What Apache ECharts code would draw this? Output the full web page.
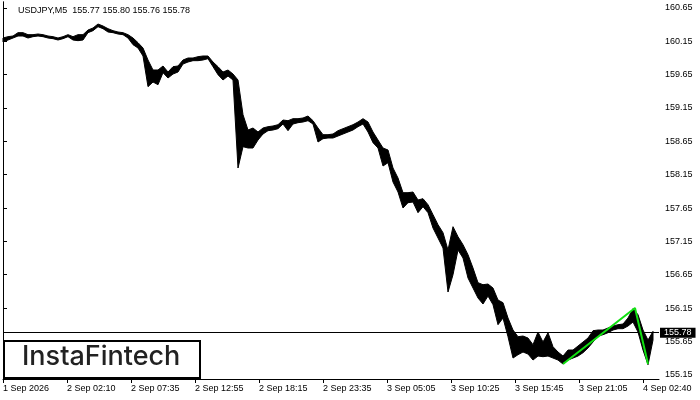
<!DOCTYPE html>
<html>
<head>
<meta charset="utf-8">
<script src="https://cdn.jsdelivr.net/npm/echarts@6/dist/echarts.min.js"></script>
<style>html,body{margin:0;padding:0;background:#fff}#c{width:700px;height:400px}</style>
</head>
<body>
<div id="c"></div>
<script>
// Sampled price range (every 5 M5 bars): high and low of each group
const sampleStep = 5;
const highs = [160.20,160.22,160.23,160.28,160.28,160.25,160.25,160.26,160.25,160.23,
160.22,160.20,160.22,160.25,160.22,160.25,160.25,160.32,160.35,160.41,
160.38,160.34,160.31,160.29,160.28,160.25,160.20,160.13,160.05,159.87,
159.72,159.72,159.78,159.69,159.77,159.78,159.87,159.90,159.90,159.92,
159.93,159.93,159.84,159.77,159.69,159.72,159.66,159.57,159.05,158.82,
158.85,158.79,158.85,158.87,158.88,158.90,158.97,158.96,158.99,158.99,
159.00,159.03,158.96,158.85,158.75,158.75,158.76,158.81,158.84,158.87,
158.90,158.94,158.99,158.94,158.79,158.67,158.55,158.52,158.25,158.10,
157.88,157.88,157.89,157.77,157.79,157.70,157.55,157.40,157.28,157.02,
157.37,157.22,157.10,156.95,156.75,156.53,156.50,156.51,156.45,156.27,
156.23,156.00,155.82,155.72,155.73,155.70,155.60,155.79,155.64,155.78,
155.57,155.49,155.43,155.52,155.52,155.58,155.64,155.70,155.81,155.82,
155.82,155.85,155.88,155.90,155.91,156.00,156.14,156.05,155.82,155.67,
155.80];
const lows = [160.14,160.17,160.20,160.23,160.23,160.20,160.22,160.23,160.22,160.20,
160.19,160.17,160.19,160.22,160.17,160.16,160.17,160.28,160.31,160.37,
160.34,160.29,160.28,160.26,160.25,160.20,160.10,160.05,159.93,159.47,
159.54,159.50,159.68,159.60,159.66,159.69,159.81,159.84,159.86,159.86,
159.87,159.89,159.77,159.65,159.57,159.63,159.57,158.25,158.57,158.55,
158.55,158.67,158.76,158.81,158.82,158.84,158.91,158.81,158.91,158.93,
158.94,158.96,158.91,158.64,158.69,158.70,158.70,158.73,158.76,158.79,
158.82,158.87,158.91,158.79,158.63,158.55,158.28,158.33,158.04,157.89,
157.65,157.73,157.74,157.58,157.67,157.58,157.35,157.20,157.05,156.39,
156.65,157.02,156.90,156.60,156.45,156.30,156.21,156.33,156.20,155.90,
156.00,155.72,155.40,155.45,155.49,155.46,155.37,155.43,155.42,155.43,
155.40,155.37,155.31,155.37,155.40,155.43,155.48,155.55,155.64,155.73,
155.75,155.78,155.82,155.84,155.84,155.88,155.94,155.79,155.52,155.30,
155.67];
const timeLabels = ["1 Sep 2026","2 Sep 02:10","2 Sep 07:35","2 Sep 12:55","2 Sep 18:15",
"2 Sep 23:35","3 Sep 05:05","3 Sep 10:25","3 Sep 15:45","3 Sep 21:05","4 Sep 02:40"];
const barsPerLabel = 64;
const priceTicks = [155.15,155.65,156.15,156.65,157.15,157.65,158.15,158.65,159.15,159.65,160.15,160.65];
const patternBars = [560, 632, 645];
const patternPrices = [155.31, 156.15, 155.31];
const lastPrice = 155.78;
const titleText = "USDJPY,M5  155.77 155.80 155.76 155.78";

const rangeData = highs.map((h, i) => [i * sampleStep, lows[i], h]);
const xTicks = timeLabels.map((t, i) => i * barsPerLabel);

const chart = echarts.init(document.getElementById('c'), null, {renderer: 'canvas'});
const F = 'Liberation Sans, Arial, sans-serif';
chart.setOption({
  animation: false,
  backgroundColor: '#fff',
  grid: {left: 3, right: 41, top: 2, bottom: 21},
  xAxis: {
    type: 'value', min: 0, max: 656,
    axisLine: {show: true, lineStyle: {color: '#000', width: 1}},
    axisTick: {show: true, inside: false, length: 4, lineStyle: {color: '#000'}, customValues: xTicks},
    axisLabel: {
      customValues: xTicks, align: 'left', margin: 5, fontSize: 9, fontFamily: F, color: '#000',
      formatter: v => timeLabels[Math.round(v / barsPerLabel)] || ''
    },
    splitLine: {show: false}
  },
  yAxis: [{
    type: 'value', position: 'right', min: 155.0855, max: 160.74,
    axisLine: {show: true, lineStyle: {color: '#000', width: 1}},
    axisTick: {show: true, inside: false, length: 4, lineStyle: {color: '#000'}, customValues: priceTicks},
    axisLabel: {customValues: priceTicks, margin: 6, fontSize: 9, fontFamily: F, color: '#000',
      formatter: v => v.toFixed(2)},
    splitLine: {show: false}
  }, {
    type: 'value', position: 'left', min: 155.0855, max: 160.74,
    axisLine: {show: true, onZero: false, lineStyle: {color: '#000', width: 1}},
    axisTick: {show: false}, axisLabel: {show: false}, splitLine: {show: false}
  }],
  graphic: [
    {type: 'text', left: 18, top: 6, style: {text: titleText, font: '9px ' + F, fill: '#000'}},
    {type: 'rect', shape: {x: 4, y: 341, width: 196, height: 37},
      style: {fill: '#fff', stroke: '#000', lineWidth: 2}, z: 100},
    {type: 'text', left: 22, top: 343, z: 101,
      style: {text: 'InstaFintech', font: '500 27px Inter, "Noto Sans", sans-serif', fill: '#222'}}
  ],
  series: [
    {
      type: 'custom',
      data: [0],
      z: 2,
      renderItem: function (params, api) {
        const top = rangeData.map(d => api.coord([d[0], d[2]]));
        const bottom = rangeData.slice().reverse().map(d => api.coord([d[0], d[1]]));
        return {
          type: 'polygon',
          shape: {points: top.concat(bottom)},
          style: {fill: '#000', stroke: '#000', lineWidth: 1, lineJoin: 'round'}
        };
      },
      markLine: {
        silent: true, symbol: ['none', 'none'], animation: false,
        lineStyle: {color: '#000', width: 1, type: 'solid'},
        label: {show: true, position: 'end', distance: 1, formatter: lastPrice.toFixed(2),
          backgroundColor: '#000', color: '#fff', fontSize: 9, fontFamily: F, padding: [1, 4, 0, 4]},
        data: [{yAxis: lastPrice}]
      }
    },
    {
      type: 'line', data: patternBars.map((b, i) => [b, patternPrices[i]]), showSymbol: false,
      symbol: 'none', lineStyle: {color: '#10e010', width: 2}, z: 5
    }
  ]
});
</script>
</body>
</html>
